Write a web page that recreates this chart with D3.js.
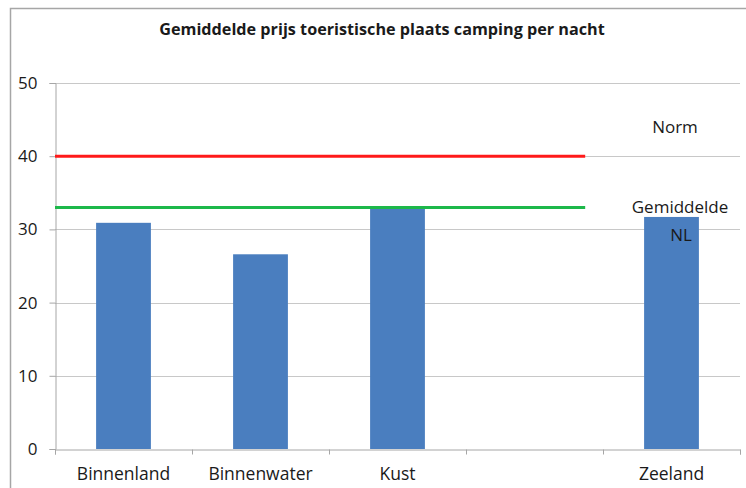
<!DOCTYPE html>
<html>
<head>
<meta charset="utf-8">
<script src="https://cdn.jsdelivr.net/npm/d3@7"></script>
<style>
  body { margin: 0; background: #fff; }
  text { font-family: "Open Sans", Lato, sans-serif; fill: #1a1a1a; }
</style>
</head>
<body>
<script>
const categories = ['Binnenland', 'Binnenwater', 'Kust', '', 'Zeeland']
const prices = [30.9, 26.6, 33.0, null, 31.7]
const yTicks = [0, 10, 20, 30, 40, 50]
const normValue = 40
const averageValue = 33
const refLineEnd = 3.87 // in category units, lines stop short of Zeeland

const width = 746
const height = 488
const margin = { top: 83, right: 6, bottom: 39, left: 55 }

const svg = d3.select('body')
  .append('svg')
  .attr('width', width)
  .attr('height', height)

// outer frame (only top and left visible)
svg.append('path')
  .attr('d', `M10.5,${height} V8.5 H${width}`)
  .attr('fill', 'none')
  .attr('stroke', '#a6a6a6')
  .attr('stroke-width', 1.5)

svg.append('text')
  .attr('x', 382)
  .attr('y', 35)
  .attr('text-anchor', 'middle')
  .style('font-size', '16.2px')
  .style('font-weight', 'bold')
  .text('Gemiddelde prijs toeristische plaats camping per nacht')

const x = d3.scaleBand()
  .domain(d3.range(categories.length))
  .range([margin.left, width - margin.right])
  .paddingInner(0.6)
  .paddingOuter(0.3)

const xLin = d3.scaleLinear()
  .domain([0, categories.length])
  .range([margin.left, width - margin.right])

const y = d3.scaleLinear()
  .domain([0, 50])
  .range([height - margin.bottom, margin.top])

// gridlines
svg.append('g')
  .selectAll('line')
  .data(yTicks.slice(1))
  .enter()
  .append('line')
  .attr('x1', margin.left)
  .attr('x2', width - margin.right)
  .attr('y1', d => Math.round(y(d)) + 0.5)
  .attr('y2', d => Math.round(y(d)) + 0.5)
  .attr('stroke', '#c8c8c8')

// y axis
const yAxis = svg.append('g')
  .attr('transform', `translate(${margin.left + 0.5},0)`)
  .call(d3.axisLeft(y).tickValues(yTicks).tickSize(6).tickPadding(12))
yAxis.select('.domain').attr('stroke', '#a6a6a6')
yAxis.selectAll('.tick line').attr('stroke', '#a6a6a6')
yAxis.selectAll('text').style('font-size', '17px').attr('fill', '#1a1a1a')

// bars
svg.append('g')
  .selectAll('rect')
  .data(prices.map((v, i) => ({ v, i })).filter(d => d.v !== null))
  .enter()
  .append('rect')
  .attr('x', d => x(d.i))
  .attr('width', x.bandwidth())
  .attr('y', d => y(d.v))
  .attr('height', d => y(0) - y(d.v))
  .attr('fill', '#4a7ebf')

// x axis
const xAxis = svg.append('g')
  .attr('transform', `translate(0,${Math.round(y(0)) + 0.5})`)
  .call(d3.axisBottom(xLin).tickValues(d3.range(categories.length + 1)).tickSize(5).tickFormat(''))
xAxis.select('.domain').attr('stroke', '#a6a6a6')
xAxis.selectAll('.tick line').attr('stroke', '#a6a6a6')

svg.append('g')
  .selectAll('text')
  .data(categories)
  .enter()
  .append('text')
  .attr('x', (d, i) => x(i) + x.bandwidth() / 2)
  .attr('y', y(0) + 31)
  .attr('text-anchor', 'middle')
  .style('font-size', '17.5px')
  .text(d => d)

// reference lines
const refLines = [
  { value: normValue, color: '#ff1a1a' },
  { value: averageValue, color: '#1db84a' }
]
svg.append('g')
  .selectAll('line')
  .data(refLines)
  .enter()
  .append('line')
  .attr('x1', xLin(0))
  .attr('x2', xLin(refLineEnd))
  .attr('y1', d => y(d.value))
  .attr('y2', d => y(d.value))
  .attr('stroke', d => d.color)
  .attr('stroke-width', 3)

// line labels
svg.append('text')
  .attr('x', 675)
  .attr('y', y(normValue) - 23)
  .attr('text-anchor', 'middle')
  .style('font-size', '17px')
  .text('Norm')

svg.append('text')
  .attr('x', 680)
  .attr('y', y(averageValue) + 6)
  .attr('text-anchor', 'middle')
  .style('font-size', '17px')
  .text('Gemiddelde')

svg.append('text')
  .attr('x', 681)
  .attr('y', y(averageValue) + 34)
  .attr('text-anchor', 'middle')
  .style('font-size', '17px')
  .text('NL')
</script>
</body>
</html>
